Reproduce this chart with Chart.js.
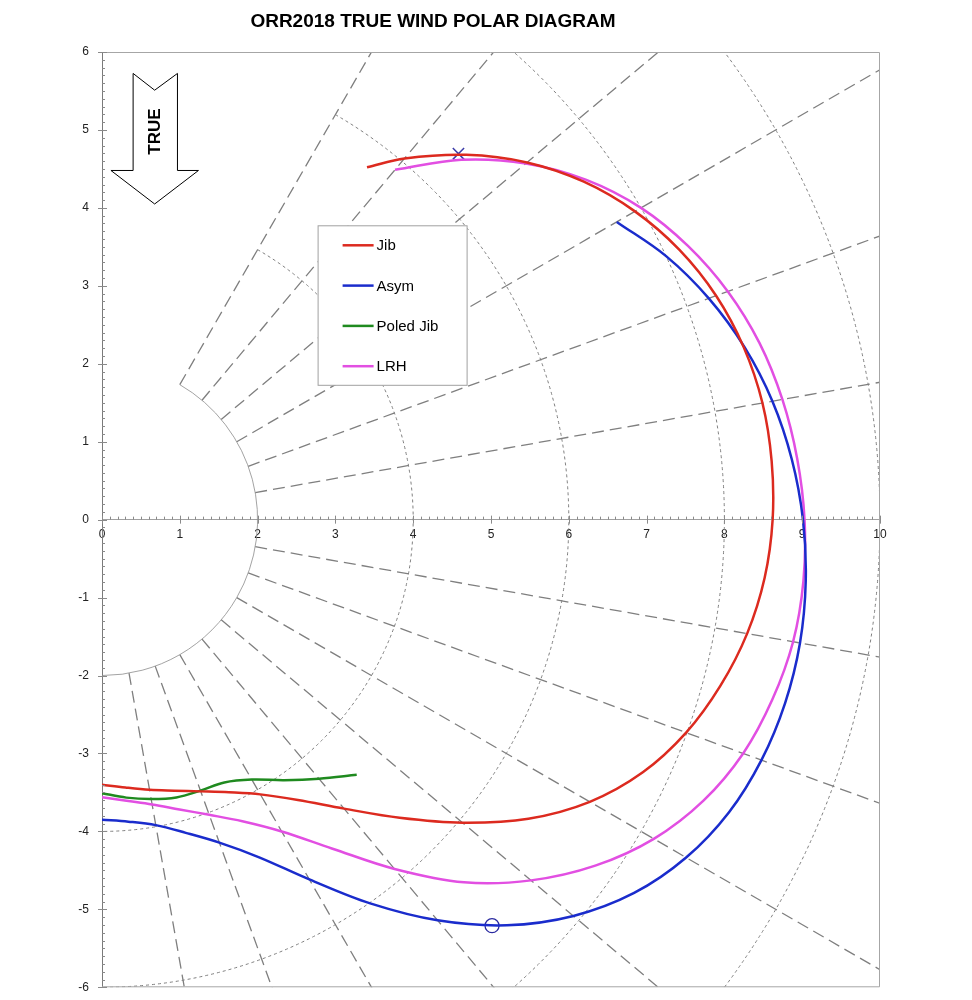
<!DOCTYPE html>
<html>
<head>
<meta charset="utf-8">
<script src="https://cdn.jsdelivr.net/npm/chart.js@4.4.0/dist/chart.umd.min.js"></script>
<style>
  html, body { margin: 0; padding: 0; background: #fff; }
</style>
</head>
<body>
<canvas id="polar" width="972" height="1000"></canvas>
<script>
// boat speed (kn) against true wind angle (deg)
const jibTwa   = [37, 40, 45, 50, 55, 60, 65, 70, 75, 80, 85, 90, 95, 100, 105, 110, 115, 120, 125, 130, 135, 140, 145, 150, 155, 160, 165, 170, 175, 180];
const jibSpeed = [5.66, 6.05, 6.62, 7.13, 7.56, 7.91, 8.19, 8.40, 8.54, 8.62, 8.64, 8.62, 8.55, 8.42, 8.23, 7.99, 7.67, 7.24, 6.69, 6.05, 5.41, 4.84, 4.39, 4.07, 3.86, 3.71, 3.60, 3.52, 3.45, 3.40];

const asymTwa   = [60, 65, 70, 75, 80, 85, 90, 95, 100, 105, 110, 115, 120, 125, 130, 135, 140, 145, 150, 155, 160, 165, 170, 175, 180];
const asymSpeed = [7.64, 8.00, 8.30, 8.55, 8.75, 8.90, 9.01, 9.08, 9.11, 9.09, 9.02, 8.89, 8.67, 8.35, 7.91, 7.36, 6.71, 6.01, 5.33, 4.78, 4.41, 4.16, 3.98, 3.89, 3.85];

const poledTwa   = [135, 140, 145, 150, 155, 160, 165, 170, 175, 180];
const poledSpeed = [4.63, 4.34, 4.08, 3.85, 3.72, 3.70, 3.69, 3.64, 3.58, 3.51];

const lrhTwa   = [40, 45, 50, 55, 60, 65, 70, 75, 80, 85, 90, 95, 100, 105, 110, 115, 120, 125, 130, 135, 140, 145, 150, 155, 160, 165, 170, 175, 180];
const lrhSpeed = [5.86, 6.53, 7.11, 7.60, 8.00, 8.31, 8.56, 8.75, 8.88, 8.97, 9.03, 9.05, 9.02, 8.92, 8.77, 8.53, 8.19, 7.74, 7.20, 6.58, 5.85, 5.15, 4.62, 4.27, 4.03, 3.85, 3.71, 3.62, 3.56];

// best VMG points: [twa, speed]
const upVmg = [44.3, 6.56];
const downVmg = [136.1, 7.23];

// polar grid
const ringRadii = [4, 6, 8, 10];
const innerRadius = 2;
const radialTwa = [30, 40, 50, 60, 70, 80, 100, 110, 120, 130, 140, 150, 160, 170];

const legendNames = ['Jib', 'Asym', 'Poled Jib', 'LRH'];
const lineColors = ['#dc2a1f', '#1a2ccc', '#1f8a1f', '#e24fe2'];

function toPoints(twa, speed) {
    return twa.map((a, i) => {
        const t = a * Math.PI / 180;
        return {x: speed[i] * Math.sin(t), y: speed[i] * Math.cos(t)};
    });
}

function curve(name, twa, speed, color) {
    return {
        label: name,
        data: toPoints(twa, speed),
        showLine: true,
        borderColor: color,
        backgroundColor: color,
        borderWidth: 2.5,
        pointRadius: 0,
        tension: 0.35,
        fill: false
    };
}

const polarGrid = {
    id: 'polarGrid',
    beforeDatasetsDraw(chart) {
        const {ctx, chartArea: a, scales: {x, y}} = chart;
        const cx = x.getPixelForValue(0), cy = y.getPixelForValue(0);
        const ux = x.getPixelForValue(1) - cx, uy = cy - y.getPixelForValue(1);
        ctx.save();
        ctx.beginPath();
        ctx.rect(a.left, a.top, a.right - a.left, a.bottom - a.top);
        ctx.clip();
        ctx.strokeStyle = '#7f7f7f';

        // radial lines
        ctx.lineWidth = 1.3;
        ctx.setLineDash([12, 6]);
        radialTwa.forEach(twa => {
            const t = twa * Math.PI / 180;
            ctx.beginPath();
            ctx.moveTo(cx + innerRadius * Math.sin(t) * ux, cy - innerRadius * Math.cos(t) * uy);
            ctx.lineTo(cx + 16 * Math.sin(t) * ux, cy - 16 * Math.cos(t) * uy);
            ctx.stroke();
        });

        // speed rings
        ctx.lineWidth = 1;
        ctx.setLineDash([3, 3]);
        ringRadii.forEach(r => {
            ctx.beginPath();
            ctx.ellipse(cx, cy, r * ux, r * uy, 0, -Math.PI / 3, Math.PI / 2);
            ctx.stroke();
        });
        ctx.setLineDash([]);
        ctx.lineWidth = 0.8;
        ctx.strokeStyle = '#8c8c8c';
        ctx.beginPath();
        ctx.ellipse(cx, cy, innerRadius * ux, innerRadius * uy, 0, -Math.PI / 3, Math.PI / 2);
        ctx.stroke();
        ctx.restore();
    },
    afterDraw(chart) {
        const {ctx, chartArea: a, scales: {x, y}} = chart;
        const x0 = x.getPixelForValue(0), y0 = y.getPixelForValue(0);
        ctx.save();

        // frame
        ctx.strokeStyle = '#a6a6a6';
        ctx.lineWidth = 1;
        ctx.beginPath();
        ctx.moveTo(a.left, a.top + 0.5);
        ctx.lineTo(a.right - 0.5, a.top + 0.5);
        ctx.lineTo(a.right - 0.5, a.bottom - 0.5);
        ctx.lineTo(a.left, a.bottom - 0.5);
        ctx.stroke();

        // minor + major ticks
        ctx.strokeStyle = '#8a8a8a';
        ctx.beginPath();
        for (let i = 0; i <= 100; i++) {
            const px = Math.round(x.getPixelForValue(i / 10)) + 0.5;
            const major = i % 10 === 0;
            ctx.moveTo(px, y0 - (major ? 4 : 3));
            ctx.lineTo(px, y0 + (major ? 4 : 0));
        }
        for (let i = -60; i <= 60; i++) {
            const py = Math.round(y.getPixelForValue(i / 10)) + 0.5;
            const major = i % 10 === 0;
            ctx.moveTo(x0 - (major ? 4 : 0), py);
            ctx.lineTo(x0 + (major ? 5 : 3), py);
        }
        ctx.stroke();

        // title
        ctx.fillStyle = '#000';
        ctx.font = 'bold 19px Arial, "Liberation Sans", sans-serif';
        ctx.textAlign = 'center';
        ctx.textBaseline = 'middle';
        ctx.fillText('ORR2018 TRUE WIND POLAR DIAGRAM', 433, 22);

        // wind arrow
        const ax = v => x.getPixelForValue(v), ay = v => y.getPixelForValue(v);
        ctx.beginPath();
        ctx.moveTo(ax(0.40), ay(5.725));
        ctx.lineTo(ax(0.677), ay(5.51));
        ctx.lineTo(ax(0.97), ay(5.725));
        ctx.lineTo(ax(0.97), ay(4.48));
        ctx.lineTo(ax(1.24), ay(4.48));
        ctx.lineTo(ax(0.677), ay(4.05));
        ctx.lineTo(ax(0.115), ay(4.48));
        ctx.lineTo(ax(0.40), ay(4.48));
        ctx.closePath();
        ctx.fillStyle = '#fff';
        ctx.fill();
        ctx.strokeStyle = '#000';
        ctx.lineWidth = 1;
        ctx.stroke();
        ctx.save();
        ctx.translate(ax(0.677), ay(4.98));
        ctx.rotate(-Math.PI / 2);
        ctx.fillStyle = '#000';
        ctx.font = 'bold 17px Arial, "Liberation Sans", sans-serif';
        ctx.fillText('TRUE', 0, 1);
        ctx.restore();

        // legend box
        const lx = a.left + 215.6, ly = a.top + 173.3;
        ctx.fillStyle = '#fff';
        ctx.fillRect(lx, ly, 149.5, 160);
        ctx.strokeStyle = '#a0a0a0';
        ctx.strokeRect(lx + 0.5, ly + 0.5, 149, 159.5);
        ctx.font = '15px Arial, "Liberation Sans", sans-serif';
        ctx.textAlign = 'left';
        legendNames.forEach((name, i) => {
            const ry = ly + 20 + i * 40.3;
            ctx.strokeStyle = lineColors[i];
            ctx.lineWidth = 2.5;
            ctx.beginPath();
            ctx.moveTo(lx + 25, ry);
            ctx.lineTo(lx + 56, ry);
            ctx.stroke();
            ctx.fillStyle = '#000';
            ctx.fillText(name, lx + 59, ry + 1);
        });
        ctx.restore();
    }
};

const tickFont = {size: 12, family: 'Arial, "Liberation Sans", sans-serif'};

new Chart(document.getElementById('polar'), {
    type: 'scatter',
    data: {
        datasets: [
            curve('Jib', jibTwa, jibSpeed, lineColors[0]),
            curve('Asym', asymTwa, asymSpeed, lineColors[1]),
            curve('Poled Jib', poledTwa, poledSpeed, lineColors[2]),
            curve('LRH', lrhTwa, lrhSpeed, lineColors[3]),
            {
                label: 'Upwind VMG',
                data: toPoints([upVmg[0]], [upVmg[1]]),
                pointStyle: 'crossRot',
                pointRadius: 8,
                borderColor: '#3c3ca8',
                borderWidth: 1.5
            },
            {
                label: 'Downwind VMG',
                data: toPoints([downVmg[0]], [downVmg[1]]),
                pointStyle: 'circle',
                pointRadius: 7,
                borderColor: '#2a2aa0',
                backgroundColor: 'rgba(0,0,0,0)',
                borderWidth: 1.3
            }
        ]
    },
    options: {
        responsive: false,
        animation: false,
        devicePixelRatio: 1,
        layout: {padding: {top: 52, right: 92, bottom: 12.7, left: 0}},
        plugins: {
            legend: {display: false},
            title: {display: false},
            tooltip: {enabled: false}
        },
        scales: {
            x: {
                type: 'linear',
                position: {y: 0},
                min: 0,
                max: 10,
                grid: {display: false, drawTicks: false},
                border: {color: '#a0a0a0'},
                ticks: {stepSize: 1, padding: 8, color: '#222', font: tickFont}
            },
            y: {
                type: 'linear',
                position: 'left',
                min: -6,
                max: 6,
                grid: {display: false, drawTicks: false},
                border: {color: '#7a7a7a'},
                ticks: {stepSize: 1, padding: 13, color: '#222', font: tickFont},
                afterFit(s) {
                    s.width = 102;
                    s.paddingTop = 0;
                    s.paddingBottom = 0;
                }
            }
        }
    },
    plugins: [polarGrid]
});
</script>
</body>
</html>
